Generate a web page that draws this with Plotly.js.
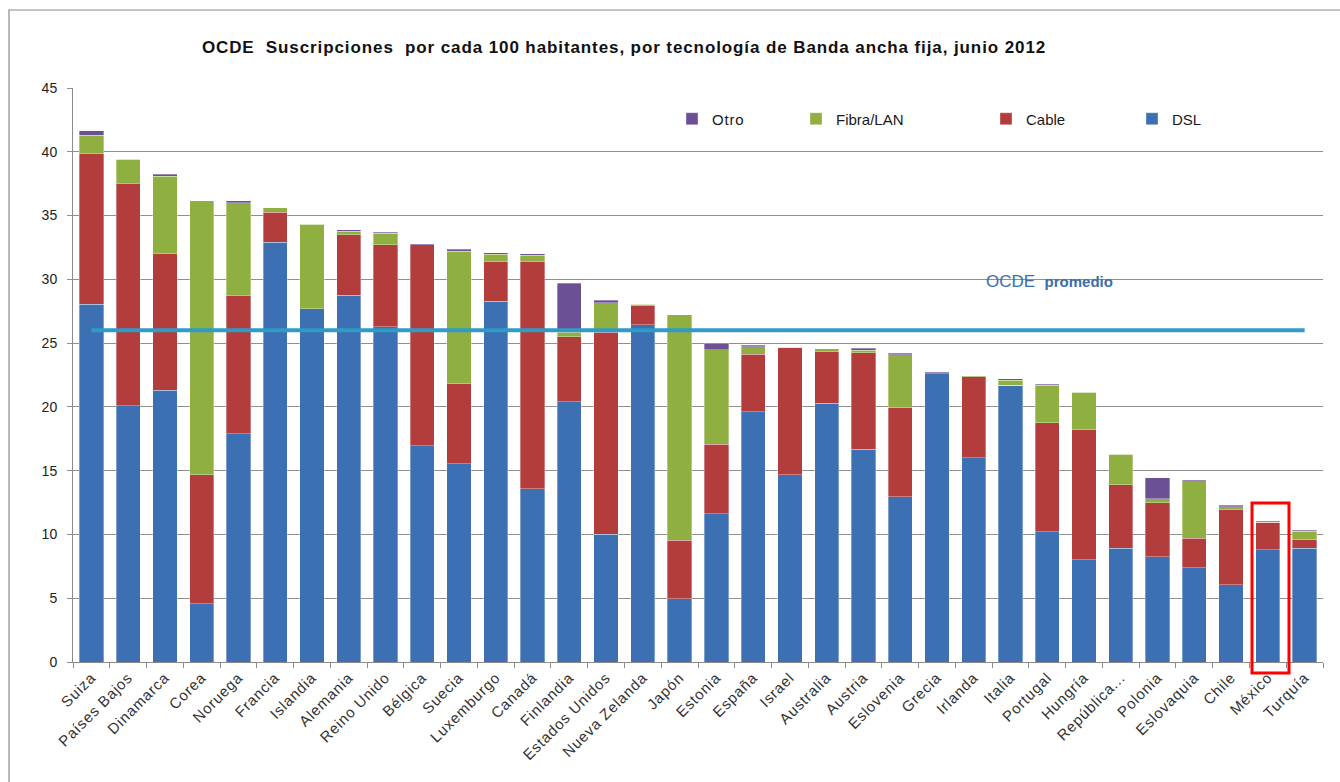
<!DOCTYPE html>
<html>
<head>
<meta charset="utf-8">
<script src="https://cdn.plot.ly/plotly-3.0.1.min.js"></script>
<style>
html,body{margin:0;padding:0;background:#fff;}
#chart{width:1340px;height:782px;}
#chart .gtitle{letter-spacing:0.9px;}
#chart .xtick text{letter-spacing:0.8px;}
#chart .legendtext{letter-spacing:0.8px;}
</style>
</head>
<body>
<div id="chart"></div>
<script>
const countries = ["Suiza","Países Bajos","Dinamarca","Corea","Noruega","Francia","Islandia","Alemania","Reino Unido","Bélgica","Suecia","Luxemburgo","Canadá","Finlandia","Estados Unidos","Nueva Zelanda","Japón","Estonia","España","Israel","Australia","Austria","Eslovenia","Grecia","Irlanda","Italia","Portugal","Hungría","República...","Polonia","Eslovaquia","Chile","México","Turquía"];
const dsl   = [28.06,20.08,21.3,4.55,17.9,32.9,27.7,28.77,26.3,16.97,15.55,28.27,13.57,20.4,10.0,26.43,4.94,11.62,19.6,14.67,20.3,16.68,12.96,22.6,16.0,21.68,10.2,8.01,8.93,8.25,7.4,6.05,8.82,8.9];
const cable = [11.8,17.47,10.7,10.12,10.87,2.35,0,4.73,6.4,15.76,6.25,3.13,17.83,5.1,15.87,1.54,4.61,5.47,4.53,10.02,4.06,7.57,6.96,0,6.36,0,8.54,10.24,4.97,4.24,2.31,5.94,2.12,0.7];
const fibra = [1.42,1.85,6.1,21.49,7.23,0.35,6.63,0.27,0.9,0,10.4,0.56,0.47,0.37,2.31,0.09,17.68,7.39,0.59,0,0.18,0.2,4.16,0,0.07,0.42,2.96,2.9,2.4,0.31,4.43,0.18,0,0.66];
const otro  = [0.35,0,0.12,0,0.15,0,0,0.13,0.1,0.07,0.15,0.12,0.13,3.82,0.18,0,0,0.5,0.12,0,0,0.15,0.12,0.1,0,0.1,0.08,0,0,1.65,0.1,0.11,0.11,0.08];
const ocdeAverage = 26.0;
const seriesNames = ["DSL","Cable","Fibra/LAN","Otro"];
const yTicks = [0,5,10,15,20,25,30,35,40,45];

const colors = {DSL:"#3D6FB3", Cable:"#B33D3C", "Fibra/LAN":"#8FAF41", Otro:"#6C5096"};
const values = {DSL:dsl, Cable:cable, "Fibra/LAN":fibra, Otro:otro};
const legendIds = {Otro:"legend", "Fibra/LAN":"legend2", Cable:"legend3", DSL:"legend4"};

const traces = seriesNames.map(n => ({
  type:"bar", name:n, x:countries, y:values[n],
  marker:{color:colors[n], line:{color:"rgba(255,255,255,0.55)", width:0.6}},
  legend:legendIds[n], hoverinfo:"x+y+name"
}));
traces.push({
  type:"scatter", mode:"lines", x:countries, y:countries.map(()=>ocdeAverage),
  line:{color:"#2F9BC6", width:4}, showlegend:false, hoverinfo:"skip"
});

const legFont = {family:"Liberation Sans, Arial, sans-serif", size:15, color:"#1a1a1a"};
function leg(xpx){ return {x:(xpx-73)/1250, xanchor:"left", y:(662-119)/574, yanchor:"middle",
  orientation:"h", font:legFont, bgcolor:"rgba(0,0,0,0)", itemwidth:30}; }

const layout = {
  width:1340, height:782,
  margin:{l:73, r:17, t:88, b:120},
  paper_bgcolor:"#fff", plot_bgcolor:"#fff",
  barmode:"stack", bargap:0.34,
  title:{text:"OCDE  Suscripciones  por cada 100 habitantes, por tecnología de Banda ancha fija, junio 2012",
    font:{family:"Liberation Sans, Arial, sans-serif", size:17, color:"#111", weight:"bold"},
    x:624/1340, xref:"container", xanchor:"center", y:1-47/782, yref:"container", yanchor:"middle"},
  xaxis:{type:"category", tickangle:-45, tickson:"boundaries", ticks:"outside", ticklen:5, tickcolor:"#8c8c8c",
    showline:true, linecolor:"#8c8c8c", linewidth:1, showgrid:false, automargin:false,
    tickfont:{family:"Liberation Sans, Arial, sans-serif", size:15, color:"#333"}},
  yaxis:{range:[0,45], tickvals:yTicks, ticks:"outside", ticklen:5, tickcolor:"#8c8c8c",
    showline:true, linecolor:"#8c8c8c", linewidth:1, gridcolor:"#8f8f8f", gridwidth:1, zeroline:false,
    automargin:false, ticklabelstandoff:7,
    tickfont:{family:"Liberation Sans, Arial, sans-serif", size:14, color:"#222"}},
  showlegend:true,
  legend:leg(672), legend2:leg(796), legend3:leg(986), legend4:leg(1132),
  shapes:[
    {type:"rect", xref:"paper", yref:"paper", x0:(9-73)/1250, x1:(1350-73)/1250, y0:(662-800)/574, y1:(662-10)/574,
      line:{color:"#8a8a8a", width:1.2}, fillcolor:"rgba(0,0,0,0)", layer:"below"},
    {type:"rect", xref:"paper", yref:"paper", x0:(1252-73)/1250, x1:(1289-73)/1250, y0:(662-673)/574, y1:(662-503)/574,
      line:{color:"#FF0000", width:3}, fillcolor:"rgba(0,0,0,0)", layer:"above"}
  ],
  annotations:[
    {text:"OCDE  <b><span style='font-size:15px'>promedio</span></b>", xref:"paper", yref:"y",
      x:(984-73)/1250, y:29.8, xanchor:"left", yanchor:"middle", showarrow:false,
      font:{family:"Liberation Sans, Arial, sans-serif", size:17, color:"#3A6EA8"}}
  ]
};

Plotly.newPlot("chart", traces, layout, {displayModeBar:false, staticPlot:true});
</script>
</body>
</html>
